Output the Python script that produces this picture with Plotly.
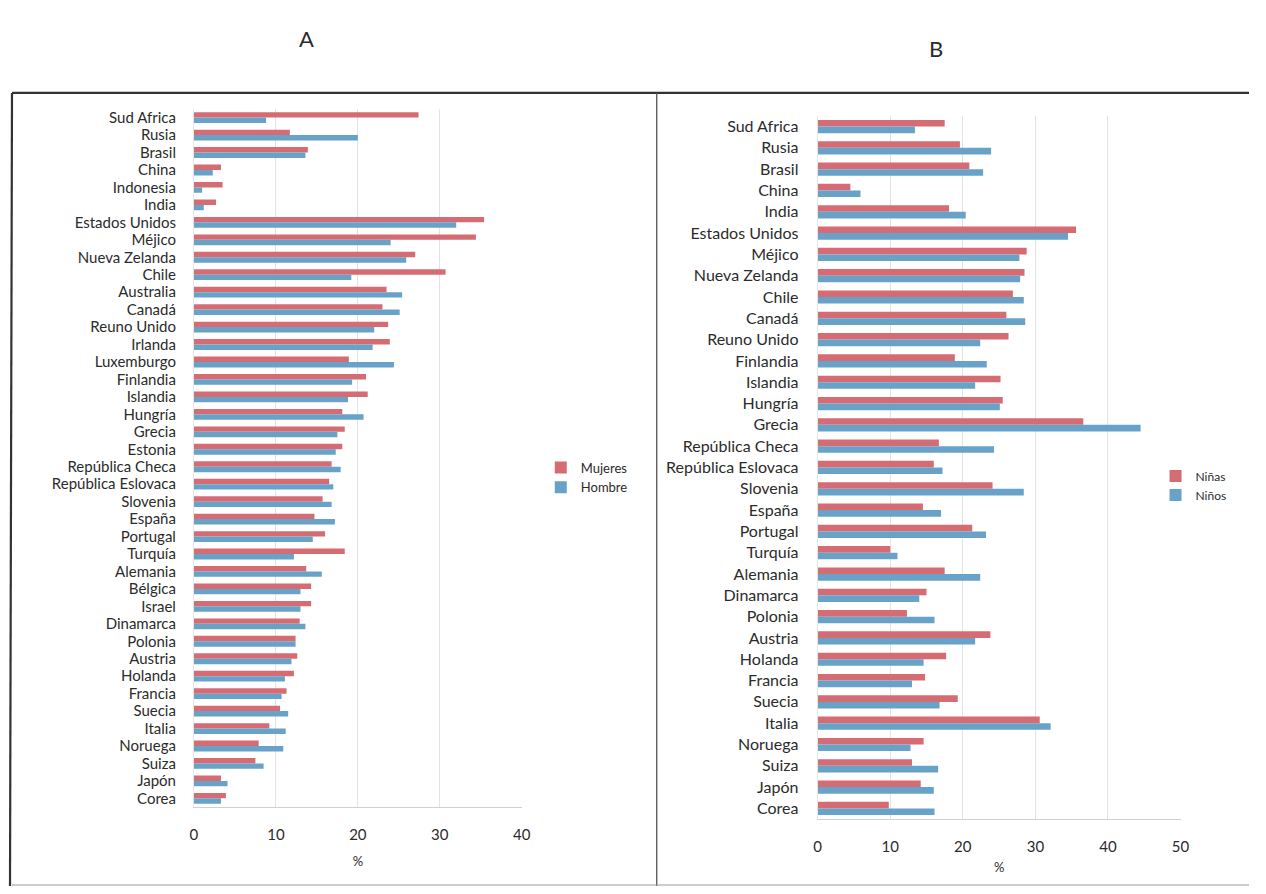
import plotly.graph_objects as go

# ---------------- Data ----------------
paises_A = ["Sud Africa", "Rusia", "Brasil", "China", "Indonesia", "India",
            "Estados Unidos", "Méjico", "Nueva Zelanda", "Chile", "Australia",
            "Canadá", "Reuno Unido", "Irlanda", "Luxemburgo", "Finlandia",
            "Islandia", "Hungría", "Grecia", "Estonia", "República Checa",
            "República Eslovaca", "Slovenia", "España", "Portugal", "Turquía",
            "Alemania", "Bélgica", "Israel", "Dinamarca", "Polonia", "Austria",
            "Holanda", "Francia", "Suecia", "Italia", "Noruega", "Suiza",
            "Japón", "Corea"]
mujeres = [27.4, 11.7, 13.9, 3.3, 3.5, 2.7, 35.4, 34.4, 27.0, 30.7, 23.5,
           23.0, 23.7, 23.9, 18.9, 21.0, 21.2, 18.1, 18.4, 18.1, 16.8, 16.5,
           15.7, 14.7, 16.0, 18.4, 13.7, 14.3, 14.3, 12.9, 12.4, 12.6, 12.2,
           11.3, 10.5, 9.2, 7.9, 7.5, 3.3, 3.9]
hombre = [8.8, 20.0, 13.6, 2.3, 1.0, 1.2, 32.0, 24.0, 25.9, 19.2, 25.4,
          25.1, 22.0, 21.8, 24.4, 19.3, 18.8, 20.7, 17.5, 17.3, 17.9, 17.0,
          16.8, 17.2, 14.5, 12.2, 15.6, 13.0, 13.0, 13.6, 12.4, 11.9, 11.1,
          10.7, 11.5, 11.2, 10.9, 8.5, 4.1, 3.3]

paises_B = ["Sud Africa", "Rusia", "Brasil", "China", "India", "Estados Unidos",
            "Méjico", "Nueva Zelanda", "Chile", "Canadá", "Reuno Unido",
            "Finlandia", "Islandia", "Hungría", "Grecia", "República Checa",
            "República Eslovaca", "Slovenia", "España", "Portugal", "Turquía",
            "Alemania", "Dinamarca", "Polonia", "Austria", "Holanda", "Francia",
            "Suecia", "Italia", "Noruega", "Suiza", "Japón", "Corea"]
ninas = [17.5, 19.6, 20.9, 4.5, 18.1, 35.6, 28.8, 28.5, 26.9, 26.0, 26.3,
         18.9, 25.2, 25.5, 36.6, 16.7, 16.0, 24.1, 14.5, 21.3, 10.0, 17.5,
         15.0, 12.3, 23.8, 17.7, 14.8, 19.3, 30.6, 14.6, 13.0, 14.2, 9.8]
ninos = [13.4, 23.9, 22.8, 5.9, 20.4, 34.5, 27.8, 27.9, 28.4, 28.6, 22.4,
         23.3, 21.7, 25.1, 44.5, 24.3, 17.2, 28.4, 17.0, 23.2, 11.0, 22.4,
         14.0, 16.1, 21.7, 14.6, 13.0, 16.8, 32.1, 12.8, 16.6, 16.0, 16.1]

ticks_A = [0, 10, 20, 30, 40]
ticks_B = [0, 10, 20, 30, 40, 50]

# ---------------- Style ----------------
OFF = 8                      # default page body margin
W, H = 1266 - 2 * OFF, 894 - 2 * OFF
RED = "#d56c74"
BLUE = "#68a2c9"
FONT = "Lato"
TXT = "#2b2b2b"


def px_x(p):
    return ((p - 11) / 0.99) / W


def px_y(p):
    return 1 - (p - OFF) / H


fig = go.Figure()

fig.add_trace(go.Bar(y=paises_A, x=mujeres, name="Mujeres", orientation="h",
                     marker=dict(color=RED, line=dict(width=0)),
                     xaxis="x", yaxis="y", legend="legend"))
fig.add_trace(go.Bar(y=paises_A, x=hombre, name="Hombre", orientation="h",
                     marker=dict(color=BLUE, line=dict(width=0)),
                     xaxis="x", yaxis="y", legend="legend"))
fig.add_trace(go.Bar(y=paises_B, x=ninas, name="Niñas", orientation="h",
                     marker=dict(color=RED, line=dict(width=0)),
                     xaxis="x2", yaxis="y2", legend="legend2"))
fig.add_trace(go.Bar(y=paises_B, x=ninos, name="Niños", orientation="h",
                     marker=dict(color=BLUE, line=dict(width=0)),
                     xaxis="x2", yaxis="y2", legend="legend2"))

axis_common = dict(showgrid=True, gridcolor="#e3e3e3", gridwidth=1,
                   zeroline=False, showline=True, linecolor="#d0d0d0",
                   ticks="", tickfont=dict(family=FONT, size=15, color=TXT),
                   ticklabelstandoff=14, fixedrange=True)

ycommon = dict(showgrid=False, zeroline=False, showline=True,
               linecolor="#e6e6e6", ticks="", fixedrange=True)

fig.update_layout(
    width=W, height=H,
    margin=dict(l=0, r=0, t=0, b=0),
    paper_bgcolor="white", plot_bgcolor="white",
    barmode="group", bargap=0.38, bargroupgap=0.0,
    font=dict(family=FONT, color=TXT),
    xaxis=dict(domain=[px_x(193), px_x(521)], range=[0, 40],
               tickvals=ticks_A, anchor="y",
               title=dict(text="%", font=dict(family=FONT, size=13, color=TXT),
                          standoff=14),
               **axis_common),
    yaxis=dict(domain=[px_y(807), px_y(108)], anchor="x",
               categoryorder="array", categoryarray=paises_A,
               tickmode="array", tickvals=paises_A, ticktext=paises_A,
               range=[len(paises_A) - 0.5, -0.5],
               ticklabelstandoff=14,
               tickfont=dict(family=FONT, size=15, color=TXT), **ycommon),
    xaxis2=dict(domain=[px_x(817), px_x(1180)], range=[0, 50],
                tickvals=ticks_B, anchor="y2",
                title=dict(text="%", font=dict(family=FONT, size=13, color=TXT),
                           standoff=8),
                **axis_common),
    yaxis2=dict(domain=[px_y(819), px_y(115)], anchor="x2",
                categoryorder="array", categoryarray=paises_B,
                tickmode="array", tickvals=paises_B, ticktext=paises_B,
                range=[len(paises_B) - 0.5, -0.5],
                ticklabelstandoff=15,
                tickfont=dict(family=FONT, size=16, color=TXT), **ycommon),
    legend=dict(x=px_x(540), y=px_y(452), xanchor="left", yanchor="top",
                bgcolor="rgba(0,0,0,0)", borderwidth=0,
                font=dict(family=FONT, size=13, color=TXT),
                traceorder="normal", itemwidth=30, tracegroupgap=4),
    legend2=dict(x=px_x(1155), y=px_y(461), xanchor="left", yanchor="top",
                 bgcolor="rgba(0,0,0,0)", borderwidth=0,
                 font=dict(family=FONT, size=12, color=TXT),
                 traceorder="normal", itemwidth=30, tracegroupgap=4),
    showlegend=True,
)

# Panel titles
fig.add_annotation(x=px_x(296), y=px_y(38), xref="paper", yref="paper",
                   text="A", showarrow=False, yanchor="middle",
                   font=dict(family=FONT, size=22, color=TXT))
fig.add_annotation(x=px_x(944), y=px_y(48), xref="paper", yref="paper",
                   text="B", showarrow=False, yanchor="middle",
                   font=dict(family=FONT, size=22, color=TXT))

# Panel frames
frame = [
    (9, 92, 1270, 92, 2.2, "#333333"),
    (9, 92, 9, 886, 2.2, "#333333"),
    (656, 92, 656, 886, 1.3, "#555555"),
    (9, 885, 1270, 885, 1.0, "#9a9a9a"),
]
for x0, y0, x1, y1, w, c in frame:
    fig.add_shape(type="line", xref="paper", yref="paper",
                  x0=max(px_x(x0), 0), y0=px_y(y0),
                  x1=min(px_x(x1), 1), y1=px_y(y1),
                  line=dict(color=c, width=w))

fig.write_html("out.html")
